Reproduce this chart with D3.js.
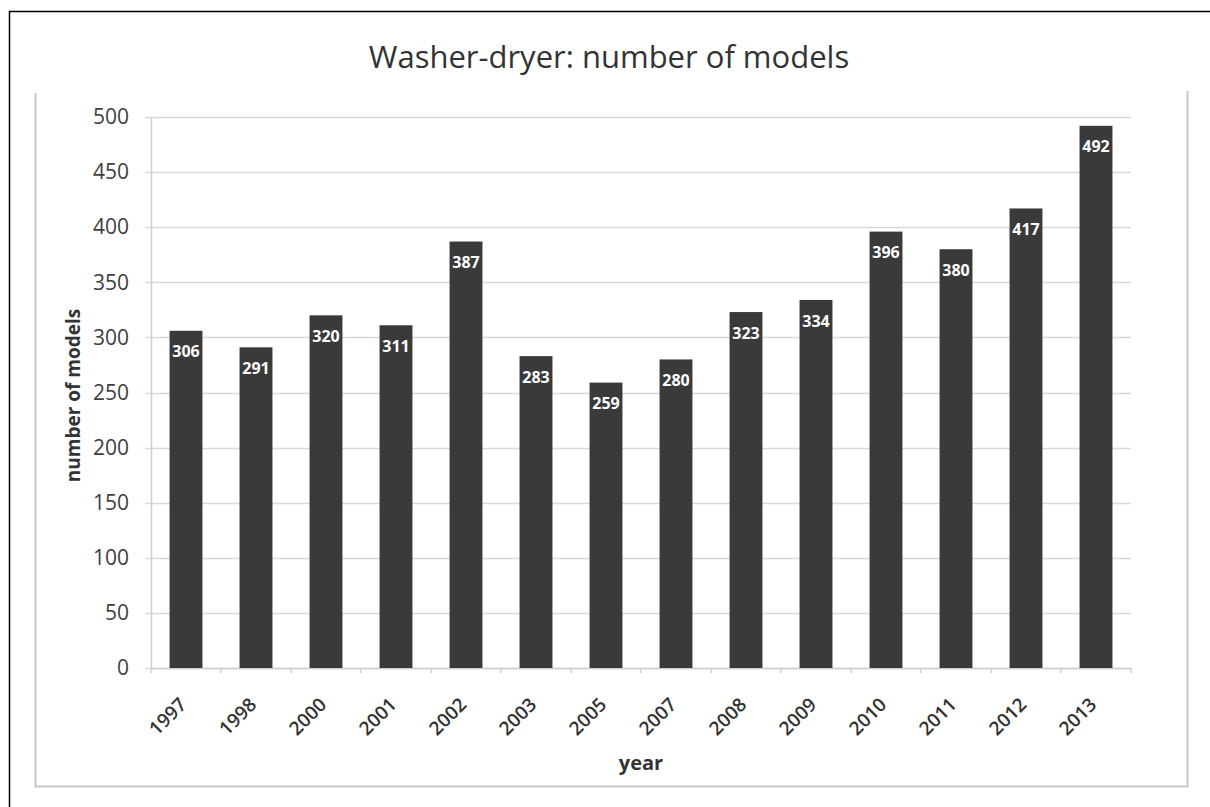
<!DOCTYPE html>
<html><head><meta charset="utf-8">
<script src="https://cdn.jsdelivr.net/npm/d3@7"></script>
<style>body{margin:0;background:#fff;} svg{display:block;}</style>
</head><body>
<svg id="c" width="1210" height="807"></svg>
<script>
const years = ["1997","1998","2000","2001","2002","2003","2005","2007","2008","2009","2010","2011","2012","2013"];
const models = [306,291,320,311,387,283,259,280,323,334,396,380,417,492];
const yTicks = [0,50,100,150,200,250,300,350,400,450,500];
const titleText = "Washer-dryer: number of models";
const xTitle = "year";
const yTitle = "number of models";

const svg = d3.select("#c");
const font = "'Open Sans', 'Noto Sans', sans-serif";
// outer frame
svg.append("path").attr("d","M9.5,807 L9.5,11.5 L1210,11.5").attr("fill","none").attr("stroke","#000").attr("stroke-width",1.5);
// chart box
svg.append("path").attr("d","M35.5,93 L35.5,786.5 L1187.5,786.5 L1187.5,91").attr("fill","none").attr("stroke","#c8c8c8").attr("stroke-width",2);

const m = {l:151, r:1131, t:117, b:668};
const x = d3.scaleBand().domain(years).range([m.l, m.r]).paddingInner(0.53).paddingOuter(0.265);
const y = d3.scaleLinear().domain([0,500]).range([m.b, m.t]);

// gridlines
svg.append("g").selectAll("line").data(yTicks).join("line")
  .attr("x1", m.l-6).attr("x2", m.r)
  .attr("y1", d=>Math.round(y(d))+0.5).attr("y2", d=>Math.round(y(d))+0.5)
  .attr("stroke","#d9d9d9").attr("stroke-width",1.5);

// y axis
const ya = svg.append("g").attr("transform",`translate(${m.l},0)`)
  .call(d3.axisLeft(y).tickValues(yTicks).tickSize(0).tickPadding(22));
ya.select(".domain").attr("stroke","#cfcfcf").attr("stroke-width",1.5);
ya.selectAll("text").attr("font-family",font).attr("font-size",21).attr("fill","#404040");

// x axis
const xa = svg.append("g").attr("transform",`translate(0,${m.b})`)
  .call(d3.axisBottom(x).tickSize(0).tickPadding(10));
xa.select(".domain").attr("stroke","#cfcfcf").attr("stroke-width",1.5);
xa.selectAll("text").attr("font-family",font).attr("font-size",19).attr("font-weight","600").attr("fill","#333")
  .attr("text-anchor","end").attr("dy","0.35em")
  .attr("transform","translate(-10,26) rotate(-45)");
// x tick marks at band boundaries
svg.append("g").selectAll("line").data(d3.range(years.length+1)).join("line")
  .attr("x1", i=>m.l + i*(m.r-m.l)/years.length).attr("x2", i=>m.l + i*(m.r-m.l)/years.length)
  .attr("y1", m.b).attr("y2", m.b+5).attr("stroke","#cfcfcf").attr("stroke-width",1.5);

// bars
svg.append("g").selectAll("rect").data(models).join("rect")
  .attr("x",(d,i)=>x(years[i])).attr("width",x.bandwidth())
  .attr("y",d=>y(d)).attr("height",d=>m.b-y(d)).attr("fill","#3a3a3a");

// labels
svg.append("g").selectAll("text").data(models).join("text")
  .attr("x",(d,i)=>x(years[i])+x.bandwidth()/2).attr("y",d=>y(d)+21)
  .attr("dy","0.35em").attr("text-anchor","middle")
  .attr("font-family",font).attr("font-size",16).attr("font-weight","bold").attr("fill","#fff")
  .text(d=>d);

// titles
svg.append("text").attr("x",609).attr("y",57).attr("dy","0.35em").attr("text-anchor","middle")
  .attr("font-family",font).attr("font-size",31).attr("fill","#333").text(titleText);
svg.append("text").attr("x",(m.l+m.r)/2).attr("y",763).attr("dy","0.35em").attr("text-anchor","middle")
  .attr("font-family",font).attr("font-size",20).attr("font-weight","bold").attr("fill","#333").text(xTitle);
svg.append("text").attr("transform",`translate(73,${(m.t+m.b)/2+3}) rotate(-90)`).attr("dy","0.35em").attr("text-anchor","middle")
  .attr("font-family",font).attr("font-size",19).attr("font-weight","bold").attr("fill","#333").text(yTitle);
</script>
</body></html>
